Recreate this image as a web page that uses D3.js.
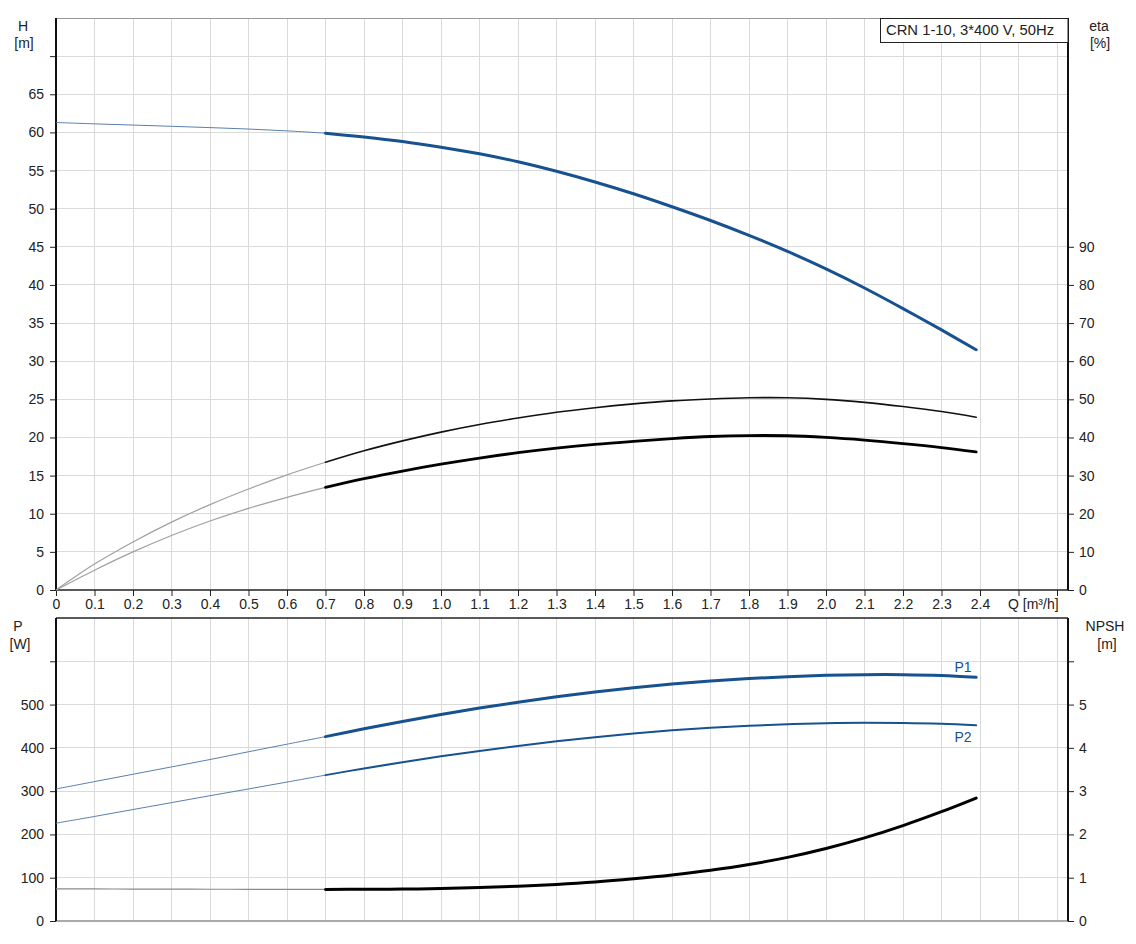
<!DOCTYPE html>
<html>
<head>
<meta charset="utf-8">
<script src="https://cdn.jsdelivr.net/npm/d3@7/dist/d3.min.js"></script>
<style>
  html, body { margin: 0; padding: 0; background: #fff; }
  svg { display: block; }
  text { font-family: "Liberation Sans", Arial, sans-serif; fill: #222; }
</style>
</head>
<body>
<svg id="chart" width="1136" height="944"></svg>
<script>
// ---------------- DATA ----------------
const flow = [0, 0.1, 0.2, 0.3, 0.4, 0.5, 0.6, 0.7, 0.8, 0.9, 1.0, 1.1, 1.2, 1.3, 1.4, 1.5, 1.6, 1.7, 1.8, 1.9, 2.0, 2.1, 2.2, 2.3, 2.39];
const head = [61.3, 61.12, 60.96, 60.8, 60.63, 60.44, 60.2, 59.9, 59.4, 58.8, 58.05, 57.2, 56.15, 54.9, 53.5, 51.95, 50.25, 48.45, 46.5, 44.4, 42.1, 39.6, 36.9, 34.1, 31.5];
const etaPump = [0, 6.8, 12.6, 17.8, 22.4, 26.5, 30.2, 33.5, 36.5, 39.1, 41.4, 43.4, 45.1, 46.6, 47.8, 48.8, 49.6, 50.1, 50.4, 50.4, 50.0, 49.2, 48.1, 46.8, 45.3];
const etaTotal = [0, 5.2, 10.0, 14.3, 18.1, 21.4, 24.3, 26.9, 29.2, 31.2, 33.0, 34.6, 36.0, 37.2, 38.2, 39.0, 39.7, 40.25, 40.5, 40.45, 40.0, 39.3, 38.4, 37.35, 36.2];
const powerP1 = [305, 322, 339, 356, 373, 391, 408.5, 426, 444, 461, 477, 492, 505.5, 518, 529, 539, 547.5, 554.5, 560, 564.5, 567.5, 569, 569, 567, 563];
const powerP2 = [226, 241.5, 257.5, 273.5, 289.5, 305, 321, 337, 352.5, 367, 380.5, 393, 404.5, 415, 424.5, 433, 440.5, 446.5, 451, 454.5, 457, 458, 457.5, 455.5, 452];
const npsh = [0.74, 0.74, 0.738, 0.736, 0.734, 0.732, 0.73, 0.73, 0.732, 0.738, 0.75, 0.772, 0.802, 0.845, 0.902, 0.977, 1.065, 1.172, 1.305, 1.47, 1.675, 1.92, 2.205, 2.525, 2.84];

const xTicks = [0, 0.1, 0.2, 0.3, 0.4, 0.5, 0.6, 0.7, 0.8, 0.9, 1.0, 1.1, 1.2, 1.3, 1.4, 1.5, 1.6, 1.7, 1.8, 1.9, 2.0, 2.1, 2.2, 2.3, 2.4, 2.5, 2.6];
const xTickLabels = ["0", "0.1", "0.2", "0.3", "0.4", "0.5", "0.6", "0.7", "0.8", "0.9", "1.0", "1.1", "1.2", "1.3", "1.4", "1.5", "1.6", "1.7", "1.8", "1.9", "2.0", "2.1", "2.2", "2.3", "2.4", "", ""];
const hTicks = [0, 5, 10, 15, 20, 25, 30, 35, 40, 45, 50, 55, 60, 65, 70];
const hTickLabels = ["0", "5", "10", "15", "20", "25", "30", "35", "40", "45", "50", "55", "60", "65", ""];
const etaTicks = [0, 10, 20, 30, 40, 50, 60, 70, 80, 90];
const pTicks = [0, 100, 200, 300, 400, 500, 600];
const pTickLabels = ["0", "100", "200", "300", "400", "500", ""];
const npshTicks = [0, 1, 2, 3, 4, 5, 6];
const npshTickLabels = ["0", "1", "2", "3", "4", "5", ""];
const titleText = "CRN 1-10, 3*400 V, 50Hz";
const flowSplit = 0.7;

// ---------------- LAYOUT ----------------
const svg = d3.select("#chart");
const L = 56, R = 1068;
const top1 = 18, bot1 = 590;
const top2 = 618, bot2 = 921;
const BLUE = "#17518f";
const GRID = "#dadada";

const x = d3.scaleLinear().domain([0, 1012 / 385]).range([L, R]);
const yH = d3.scaleLinear().domain([0, 75]).range([bot1, top1]);
const yEta = d3.scaleLinear().domain([0, 150]).range([bot1, top1]);
const yP = d3.scaleLinear().domain([0, 700]).range([bot2, top2]);
const yN = d3.scaleLinear().domain([0, 7]).range([bot2, top2]);

// grids
function grid(g, yScale, yTicks, y0, y1) {
  g.selectAll("line.v").data(xTicks.filter(d => d > 0)).enter().append("line")
    .attr("x1", d => x(d)).attr("x2", d => x(d)).attr("y1", y0).attr("y2", y1)
    .attr("stroke", GRID).attr("stroke-width", 1).attr("shape-rendering", "crispEdges");
  g.selectAll("line.h").data(yTicks.filter(d => d > 0)).enter().append("line")
    .attr("x1", L).attr("x2", R).attr("y1", d => yScale(d)).attr("y2", d => yScale(d))
    .attr("stroke", GRID).attr("stroke-width", 1).attr("shape-rendering", "crispEdges");
}
grid(svg.append("g"), yH, hTicks, top1, bot1);
grid(svg.append("g"), yP, pTicks, top2, bot2);

// frames
svg.append("line").attr("x1", L).attr("x2", R).attr("y1", top1 + 0.5).attr("y2", top1 + 0.5).attr("stroke", "#999");
svg.append("line").attr("x1", L).attr("x2", R).attr("y1", top2).attr("y2", top2).attr("stroke", "#222").attr("stroke-width", 1.5);
svg.append("line").attr("x1", L).attr("x2", R).attr("y1", bot2).attr("y2", bot2).attr("stroke", "#aaa").attr("stroke-width", 2);

// axes
const fontSz = "14px";
function styleAxis(g) {
  g.select(".domain").remove();
  g.selectAll(".tick line").attr("stroke", "#222");
  g.selectAll(".tick text").style("font-size", fontSz).attr("fill", "#222")
    .style("font-family", '"Liberation Sans", Arial, sans-serif');
}

// x axis (top panel bottom)
const gx = svg.append("g").attr("transform", `translate(0,${bot1})`)
  .call(d3.axisBottom(x).tickValues(xTicks).tickFormat((d, i) => xTickLabels[i]).tickSize(6).tickPadding(3));
styleAxis(gx);
svg.append("line").attr("x1", L).attr("x2", R).attr("y1", bot1).attr("y2", bot1).attr("stroke", "#222").attr("stroke-width", 1.5);
svg.append("text").attr("x", 1008).attr("y", 609).style("font-size", fontSz).text("Q [m³/h]");

// left H axis
const gh = svg.append("g").attr("transform", `translate(${L},0)`)
  .call(d3.axisLeft(yH).tickValues(hTicks).tickFormat((d, i) => hTickLabels[i]).tickSize(6).tickPadding(6));
styleAxis(gh);
// right eta axis
const ge = svg.append("g").attr("transform", `translate(${R},0)`)
  .call(d3.axisRight(yEta).tickValues(etaTicks).tickSize(6).tickPadding(5));
styleAxis(ge);
// left P axis
const gp = svg.append("g").attr("transform", `translate(${L},0)`)
  .call(d3.axisLeft(yP).tickValues(pTicks).tickFormat((d, i) => pTickLabels[i]).tickSize(6).tickPadding(6));
styleAxis(gp);
// right NPSH axis
const gn = svg.append("g").attr("transform", `translate(${R},0)`)
  .call(d3.axisRight(yN).tickValues(npshTicks).tickFormat((d, i) => npshTickLabels[i]).tickSize(6).tickPadding(5));
styleAxis(gn);

// vertical axis lines
[[L, top1, bot1], [R, top1, bot1], [L, top2, bot2], [R, top2, bot2]].forEach(([xx, a, b]) => {
  svg.append("line").attr("x1", xx).attr("x2", xx).attr("y1", a).attr("y2", b).attr("stroke", "#111").attr("stroke-width", 2);
});

// axis titles
function label(txt, xx, yy) {
  svg.append("text").attr("x", xx).attr("y", yy).attr("text-anchor", "middle").style("font-size", fontSz).text(txt);
}
label("H", 23, 31); label("[m]", 24, 48);
label("eta", 1099, 31); label("[%]", 1100, 48);
label("P", 18, 631); label("[W]", 20, 649);
label("NPSH", 1105, 631); label("[m]", 1107, 649);

// ---------------- CURVES ----------------
function drawSeries(vals, yScale, thin, thick) {
  const pts = flow.map((q, i) => [q, vals[i]]);
  const line = d3.line().x(d => x(d[0])).y(d => yScale(d[1])).curve(d3.curveCatmullRom.alpha(0.5));
  const a = pts.filter(d => d[0] <= flowSplit);
  const b = pts.filter(d => d[0] >= flowSplit);
  svg.append("path").attr("d", line(a)).attr("fill", "none")
    .attr("stroke", thin.color).attr("stroke-width", thin.width);
  svg.append("path").attr("d", line(b)).attr("fill", "none")
    .attr("stroke", thick.color).attr("stroke-width", thick.width).attr("stroke-linecap", "round");
}
drawSeries(head, yH, {color: "#5a7fae", width: 1}, {color: BLUE, width: 3});
drawSeries(etaPump, yEta, {color: "#a0a0a0", width: 1.2}, {color: "#111", width: 1.6});
drawSeries(etaTotal, yEta, {color: "#a0a0a0", width: 1.2}, {color: "#000", width: 2.8});
drawSeries(powerP1, yP, {color: "#5a7fae", width: 1}, {color: BLUE, width: 3});
drawSeries(powerP2, yP, {color: "#5a7fae", width: 1}, {color: BLUE, width: 2});
drawSeries(npsh, yN, {color: "#8a8a8a", width: 1.2}, {color: "#000", width: 3});

// series labels
svg.append("text").attr("x", 963).attr("y", 672).attr("text-anchor", "middle").style("font-size", fontSz).style("fill", BLUE).text("P1");
svg.append("text").attr("x", 963).attr("y", 742).attr("text-anchor", "middle").style("font-size", fontSz).style("fill", BLUE).text("P2");

// title box
svg.append("rect").attr("x", 880.5).attr("y", top1 + 0.5).attr("width", R - 880.5).attr("height", 24)
  .attr("fill", "#fff").attr("stroke", "#222").attr("stroke-width", 1);
svg.append("text").attr("x", 886).attr("y", 35).style("font-size", "14.8px").text(titleText);
</script>
</body>
</html>
